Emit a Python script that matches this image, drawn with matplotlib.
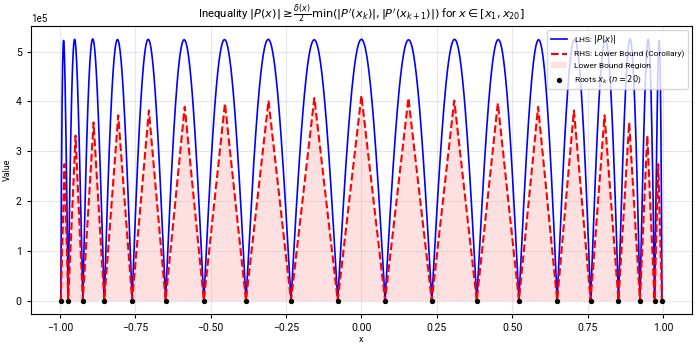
import numpy as np
import matplotlib
matplotlib.use("Agg")
import matplotlib.pyplot as plt

plt.rcParams['font.family'] = ['Roboto', 'DejaVu Sans']

# roots x_1 .. x_20 (black dots)
roots = [-0.9969, -0.9724, -0.9239, -0.8526, -0.7604, -0.6494, -0.5225,
         -0.3827, -0.2334, -0.0785, 0.0785, 0.2334, 0.3827, 0.5225,
         0.6494, 0.7604, 0.8526, 0.9239, 0.9724, 0.9969]
# leading coefficient of P, so that the lobes top out near 5.24e5
lead_coef = 2.0 ** 38

roots = np.array(roots)
n = len(roots)


def P(x):
    out = np.full_like(x, lead_coef, dtype=float)
    for r in roots:
        out = out * (x - r)
    return out


def dP_at_root(k):
    others = np.delete(roots, k)
    return lead_coef * np.prod(roots[k] - others)


dP = np.array([dP_at_root(k) for k in range(n)])

x = np.linspace(roots[0], roots[-1], 6000)
lhs = np.abs(P(x))

# lower bound: delta(x)/2 * min(|P'(x_k)|, |P'(x_k+1)|) on each interval
idx = np.clip(np.searchsorted(roots, x, side='right') - 1, 0, n - 2)
left = roots[idx]
right = roots[idx + 1]
delta = np.minimum(x - left, right - x)
m = np.minimum(np.abs(dP[idx]), np.abs(dP[idx + 1]))
rhs = delta / 2 * m

fig, ax = plt.subplots(figsize=(6.99, 3.45), dpi=100)
ax.plot(x, lhs, color='blue', lw=1.2, label=r'LHS: $|P(x)|$')
ax.plot(x, rhs, color='red', lw=1.5, ls='--', label='RHS: Lower Bound (Corollary)')
ax.fill_between(x, 0, rhs, color='red', alpha=0.12, lw=0, label='Lower Bound Region')
ax.scatter(roots, np.zeros(n), color='black', s=8, zorder=5, label=r'Roots $x_k$ ($n=20$)')

ax.set_title(r"Inequality $|P(x)| \geq \frac{\delta(x)}{2}\min(|P'(x_k)|, |P'(x_{k+1})|)$ for $x \in [x_1, x_{20}]$",
             fontsize=8.2)
ax.set_xlabel('x', fontsize=6.5, labelpad=2)
ax.set_ylabel('Value', fontsize=6.5, labelpad=3)
ax.ticklabel_format(axis='y', style='sci', scilimits=(0, 0))
ax.tick_params(labelsize=7.5, length=3)
ax.yaxis.get_offset_text().set_fontsize(7)
ax.set_xticks([-1.0, -0.75, -0.5, -0.25, 0.0, 0.25, 0.5, 0.75, 1.0])
ax.grid(True, alpha=0.3)
ax.legend(loc='upper right', fontsize=6)

fig.subplots_adjust(left=0.044, right=0.99, top=0.925, bottom=0.091)
plt.savefig('out.png', dpi=100)
